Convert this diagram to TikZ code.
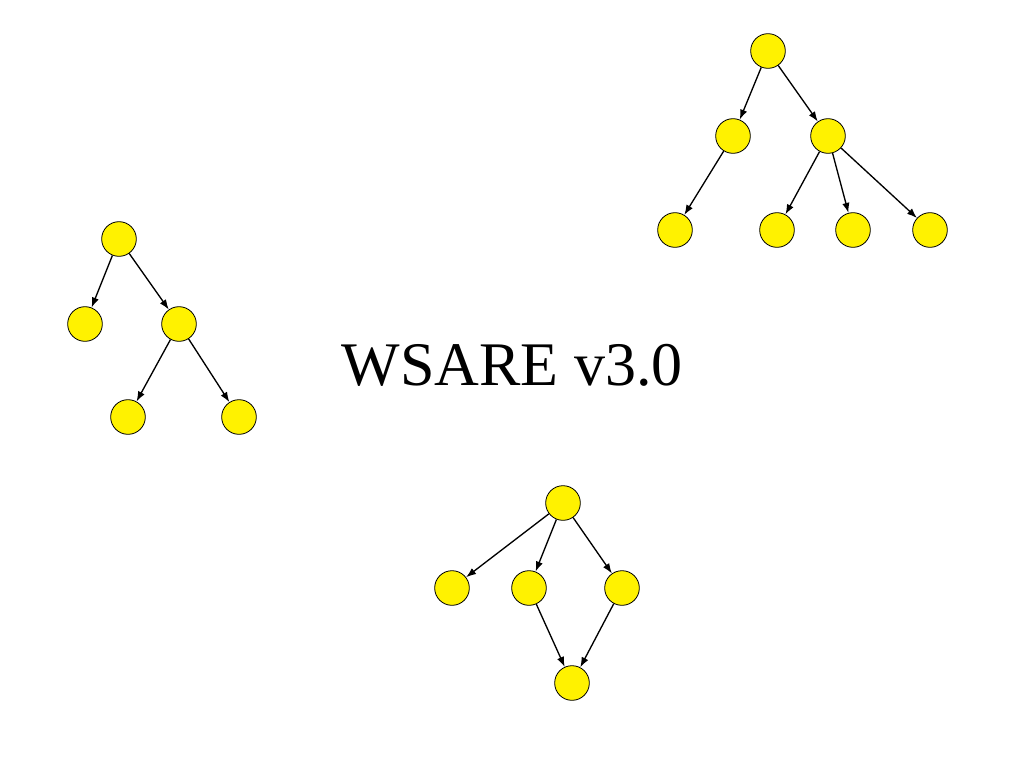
\documentclass[tikz,border=0pt]{standalone}
\usepackage{fontspec}
\setmainfont{Liberation Serif}
\usetikzlibrary{arrows.meta}

\begin{document}
\begin{tikzpicture}
      [x=.75pt,y=-.75pt
      ,nod/.style={circle,draw=black,fill=yellow,line width=.6pt,minimum size=26pt,inner sep=0pt}
      ,lin/.style={draw=black,line width=1pt,-{Latex[length=7.5pt,width=5.5pt]}}
      ,ttl/.style={font=\fontsize{46.5}{50}\selectfont}
      ]
        \useasboundingbox (0,0) rectangle (1024,768);

        % top right tree
        \node[nod] (ta) at (768,51) {};
        \node[nod] (tb) at (733,136) {};
        \node[nod] (tc) at (828,136) {};
        \node[nod] (td) at (675,230) {};
        \node[nod] (te) at (777,230) {};
        \node[nod] (tf) at (853,230) {};
        \node[nod] (tg) at (930,230) {};

        % left tree
        \node[nod] (la) at (119,239) {};
        \node[nod] (lb) at (85,324) {};
        \node[nod] (lc) at (179,324) {};
        \node[nod] (ld) at (128,417) {};
        \node[nod] (le) at (239,417) {};

        % bottom graph
        \node[nod] (ba) at (563,503) {};
        \node[nod] (bb) at (452,588) {};
        \node[nod] (bc) at (529,588) {};
        \node[nod] (bd) at (622,588) {};
        \node[nod] (be) at (572,683) {};

        \foreach \s/\t in {ta/tb,ta/tc,tb/td,tc/te,tc/tf,tc/tg,
                           la/lb,la/lc,lc/ld,lc/le,
                           ba/bb,ba/bc,ba/bd,bc/be,bd/be}{
            \draw[lin] (\s) -- (\t);
        }

        \node[ttl] (title) at (512,365) {WSARE v3.0};

      \end{tikzpicture}
\end{document}
